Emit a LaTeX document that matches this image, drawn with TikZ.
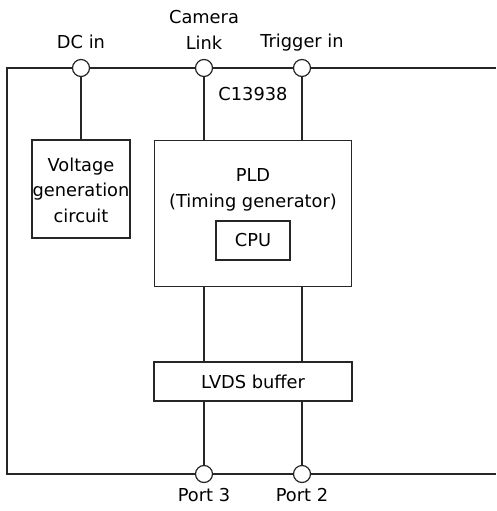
\documentclass[tikz,border=0pt]{standalone}
\usepackage{fontspec}
\setmainfont{DejaVu Sans}
\begin{document}
\begin{tikzpicture}[x=1pt,y=-1pt,
  line width=1.2pt, draw=black!85,
  every node/.style={font=\fontsize{17.8}{25.5}\selectfont, text=black},
  port/.style={circle, draw, fill=white, minimum size=17pt, inner sep=0pt},
  blk/.style={rectangle, draw, inner sep=0pt},
  lbl/.style={align=center, inner sep=0pt}]
\useasboundingbox (0,0) rectangle (496,511);
% ports
\node[port] (dc) at (81,68) {};
\node[port] (cl) at (204,68) {};
\node[port] (tr) at (302,68) {};
\node[port] (p3) at (204,474) {};
\node[port] (p2) at (302,474) {};
\coordinate (tl) at (7,68);
\coordinate (te) at (496,68);
\coordinate (bl) at (7,474);
\coordinate (be) at (496,474);
% blocks
\node[blk, minimum width=98pt, minimum height=98pt] (vg) at (81,189) {};
\node[lbl, text width=98pt] (vgt) at (81,190) {Voltage\\generation\\circuit};
\node[blk, minimum width=197pt, minimum height=146pt] (pld) at (253,213.7) {};
\node[lbl] (pldt) at (253,190) {PLD\\(Timing generator)};
\node[blk, minimum width=74pt, minimum height=39pt] (cpu) at (253,240.5) {CPU};
\node[blk, minimum width=198pt, minimum height=39pt] (lvds) at (253,381.5) {LVDS buffer};
% labels
\node[lbl] (dcl) at (81,42) {DC in};
\node[lbl] (cll) at (204,30) {Camera\\Link};
\node[lbl] (trl) at (302,43) {Trigger in};
\node[lbl] (cname) at (253,94) {C13938};
\node[lbl] (p3l) at (204,495) {Port 3};
\node[lbl] (p2l) at (302,495) {Port 2};
% outline
\draw (te) -- (tr);
\draw (tr) -- (cl);
\draw (cl) -- (dc);
\draw (dc) -- (tl) -- (bl) -- (p3);
\draw (p3) -- (p2);
\draw (p2) -- (be);
% connections
\draw (dc) -- (vg);
\draw (cl) -- (cl |- pld.north);
\draw (tr) -- (tr |- pld.north);
\draw (pld.south -| cl) -- (lvds.north -| cl);
\draw (pld.south -| tr) -- (lvds.north -| tr);
\draw (lvds.south -| p3) -- (p3);
\draw (lvds.south -| p2) -- (p2);
\end{tikzpicture}
\end{document}
